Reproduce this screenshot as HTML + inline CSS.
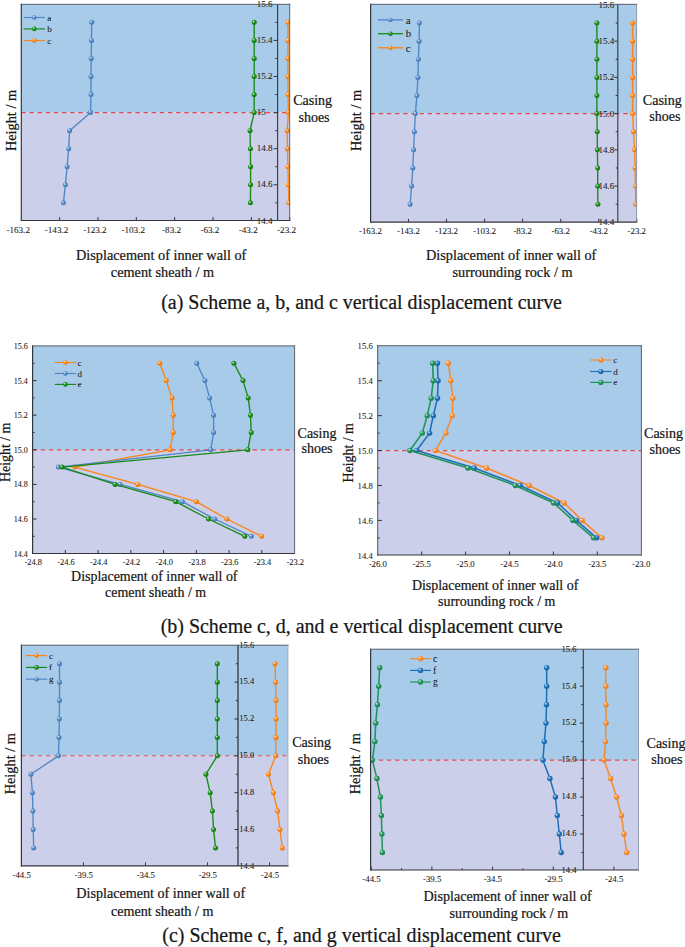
<!DOCTYPE html>
<html lang="en"><head><meta charset="utf-8"><title>Vertical displacement curves</title>
<style>
html,body{margin:0;padding:0;background:#fff;}
body{width:685px;height:947px;overflow:hidden;}
svg{display:block;font-family:'Liberation Serif','Times New Roman',serif;}
svg text{fill:#161616;stroke:#161616;stroke-width:0.22px;}
svg text.s{stroke-width:0.08px;fill:#1c1c1c;}
</style></head><body>
<svg width="685" height="947" viewBox="0 0 685 947">
<defs>
<clipPath id="c0"><rect x="21.3" y="4.3" width="268.4" height="216.2"/></clipPath>
<radialGradient id="g0" cx="0.38" cy="0.36" r="0.62" fx="0.35" fy="0.32"><stop offset="0" stop-color="#fff" stop-opacity="0.85"/><stop offset="0.22" stop-color="#fff" stop-opacity="0.5"/><stop offset="0.6" stop-color="#4f86c6" stop-opacity="0"/><stop offset="1" stop-color="#000" stop-opacity="0.10"/></radialGradient>
<radialGradient id="g1" cx="0.38" cy="0.36" r="0.62" fx="0.35" fy="0.32"><stop offset="0" stop-color="#fff" stop-opacity="0.85"/><stop offset="0.22" stop-color="#fff" stop-opacity="0.5"/><stop offset="0.6" stop-color="#168a16" stop-opacity="0"/><stop offset="1" stop-color="#000" stop-opacity="0.10"/></radialGradient>
<radialGradient id="g2" cx="0.38" cy="0.36" r="0.62" fx="0.35" fy="0.32"><stop offset="0" stop-color="#fff" stop-opacity="0.85"/><stop offset="0.22" stop-color="#fff" stop-opacity="0.5"/><stop offset="0.6" stop-color="#fb8414" stop-opacity="0"/><stop offset="1" stop-color="#000" stop-opacity="0.10"/></radialGradient>
<clipPath id="c1"><rect x="370.6" y="4.3" width="266.0" height="217.89999999999998"/></clipPath>
<clipPath id="c2"><rect x="32.6" y="345.9" width="262.0" height="207.60000000000002"/></clipPath>
<clipPath id="c3"><rect x="377.7" y="345.7" width="263.7" height="209.3"/></clipPath>
<radialGradient id="g3" cx="0.38" cy="0.36" r="0.62" fx="0.35" fy="0.32"><stop offset="0" stop-color="#fff" stop-opacity="0.85"/><stop offset="0.22" stop-color="#fff" stop-opacity="0.5"/><stop offset="0.6" stop-color="#f58a2e" stop-opacity="0"/><stop offset="1" stop-color="#000" stop-opacity="0.10"/></radialGradient>
<radialGradient id="g4" cx="0.38" cy="0.36" r="0.62" fx="0.35" fy="0.32"><stop offset="0" stop-color="#fff" stop-opacity="0.85"/><stop offset="0.22" stop-color="#fff" stop-opacity="0.5"/><stop offset="0.6" stop-color="#1d70b7" stop-opacity="0"/><stop offset="1" stop-color="#000" stop-opacity="0.10"/></radialGradient>
<radialGradient id="g5" cx="0.38" cy="0.36" r="0.62" fx="0.35" fy="0.32"><stop offset="0" stop-color="#fff" stop-opacity="0.85"/><stop offset="0.22" stop-color="#fff" stop-opacity="0.5"/><stop offset="0.6" stop-color="#1d9358" stop-opacity="0"/><stop offset="1" stop-color="#000" stop-opacity="0.10"/></radialGradient>
<clipPath id="c4"><rect x="21.4" y="645.2" width="266.6" height="220.69999999999993"/></clipPath>
<clipPath id="c5"><rect x="370.6" y="649.2" width="267.9" height="220.79999999999995"/></clipPath>
</defs>
<rect width="685" height="947" fill="#fff"/>
<g><rect x="21.3" y="4.3" width="268.4" height="108.30" fill="#a7cbe9"/>
<rect x="21.3" y="112.6" width="268.4" height="107.90" fill="#cbcfe9"/>
<line x1="21.3" y1="112.6" x2="289.7" y2="112.6" stroke="#e24b52" stroke-width="1.1" stroke-dasharray="4.4 3.75" stroke-dashoffset="0"/>
<line x1="277.6" y1="22.35" x2="275.30" y2="22.35" stroke="#34363e" stroke-width="1"/>
<line x1="277.6" y1="40.40" x2="273.60" y2="40.40" stroke="#34363e" stroke-width="1"/>
<line x1="277.6" y1="58.45" x2="275.30" y2="58.45" stroke="#34363e" stroke-width="1"/>
<line x1="277.6" y1="76.50" x2="273.60" y2="76.50" stroke="#34363e" stroke-width="1"/>
<line x1="277.6" y1="94.55" x2="275.30" y2="94.55" stroke="#34363e" stroke-width="1"/>
<line x1="277.6" y1="112.60" x2="273.60" y2="112.60" stroke="#34363e" stroke-width="1"/>
<line x1="277.6" y1="130.65" x2="275.30" y2="130.65" stroke="#34363e" stroke-width="1"/>
<line x1="277.6" y1="148.70" x2="273.60" y2="148.70" stroke="#34363e" stroke-width="1"/>
<line x1="277.6" y1="166.75" x2="275.30" y2="166.75" stroke="#34363e" stroke-width="1"/>
<line x1="277.6" y1="184.80" x2="273.60" y2="184.80" stroke="#34363e" stroke-width="1"/>
<line x1="277.6" y1="202.85" x2="275.30" y2="202.85" stroke="#34363e" stroke-width="1"/>
<line x1="59.64" y1="220.5" x2="59.64" y2="217.1" stroke="#34363e" stroke-width="1"/>
<line x1="97.98" y1="220.5" x2="97.98" y2="217.1" stroke="#34363e" stroke-width="1"/>
<line x1="136.32" y1="220.5" x2="136.32" y2="217.1" stroke="#34363e" stroke-width="1"/>
<line x1="174.66" y1="220.5" x2="174.66" y2="217.1" stroke="#34363e" stroke-width="1"/>
<line x1="213.00" y1="220.5" x2="213.00" y2="217.1" stroke="#34363e" stroke-width="1"/>
<line x1="251.34" y1="220.5" x2="251.34" y2="217.1" stroke="#34363e" stroke-width="1"/>
<line x1="289.68" y1="220.5" x2="289.68" y2="217.1" stroke="#34363e" stroke-width="1"/>
<g clip-path="url(#c0)">
<polyline fill="none" stroke="#4f86c6" stroke-width="1.35" stroke-linejoin="round" points="91.70,22.35 91.50,40.40 91.20,58.45 91.00,76.50 91.00,94.55 90.60,112.60 69.60,130.65 68.70,148.70 67.10,166.75 65.40,184.80 63.40,202.85"/><circle cx="91.70" cy="22.35" r="2.5" fill="#4f86c6"/><circle cx="91.70" cy="22.35" r="2.5" fill="url(#g0)"/><circle cx="91.50" cy="40.40" r="2.5" fill="#4f86c6"/><circle cx="91.50" cy="40.40" r="2.5" fill="url(#g0)"/><circle cx="91.20" cy="58.45" r="2.5" fill="#4f86c6"/><circle cx="91.20" cy="58.45" r="2.5" fill="url(#g0)"/><circle cx="91.00" cy="76.50" r="2.5" fill="#4f86c6"/><circle cx="91.00" cy="76.50" r="2.5" fill="url(#g0)"/><circle cx="91.00" cy="94.55" r="2.5" fill="#4f86c6"/><circle cx="91.00" cy="94.55" r="2.5" fill="url(#g0)"/><circle cx="90.60" cy="112.60" r="2.5" fill="#4f86c6"/><circle cx="90.60" cy="112.60" r="2.5" fill="url(#g0)"/><circle cx="69.60" cy="130.65" r="2.5" fill="#4f86c6"/><circle cx="69.60" cy="130.65" r="2.5" fill="url(#g0)"/><circle cx="68.70" cy="148.70" r="2.5" fill="#4f86c6"/><circle cx="68.70" cy="148.70" r="2.5" fill="url(#g0)"/><circle cx="67.10" cy="166.75" r="2.5" fill="#4f86c6"/><circle cx="67.10" cy="166.75" r="2.5" fill="url(#g0)"/><circle cx="65.40" cy="184.80" r="2.5" fill="#4f86c6"/><circle cx="65.40" cy="184.80" r="2.5" fill="url(#g0)"/><circle cx="63.40" cy="202.85" r="2.5" fill="#4f86c6"/><circle cx="63.40" cy="202.85" r="2.5" fill="url(#g0)"/>
<polyline fill="none" stroke="#168a16" stroke-width="1.35" stroke-linejoin="round" points="254.20,22.35 254.20,40.40 254.20,58.45 254.20,76.50 254.20,94.55 254.20,112.60 250.00,130.65 250.40,148.70 250.60,166.75 250.60,184.80 250.40,202.85"/><circle cx="254.20" cy="22.35" r="2.5" fill="#168a16"/><circle cx="254.20" cy="22.35" r="2.5" fill="url(#g1)"/><circle cx="254.20" cy="40.40" r="2.5" fill="#168a16"/><circle cx="254.20" cy="40.40" r="2.5" fill="url(#g1)"/><circle cx="254.20" cy="58.45" r="2.5" fill="#168a16"/><circle cx="254.20" cy="58.45" r="2.5" fill="url(#g1)"/><circle cx="254.20" cy="76.50" r="2.5" fill="#168a16"/><circle cx="254.20" cy="76.50" r="2.5" fill="url(#g1)"/><circle cx="254.20" cy="94.55" r="2.5" fill="#168a16"/><circle cx="254.20" cy="94.55" r="2.5" fill="url(#g1)"/><circle cx="254.20" cy="112.60" r="2.5" fill="#168a16"/><circle cx="254.20" cy="112.60" r="2.5" fill="url(#g1)"/><circle cx="250.00" cy="130.65" r="2.5" fill="#168a16"/><circle cx="250.00" cy="130.65" r="2.5" fill="url(#g1)"/><circle cx="250.40" cy="148.70" r="2.5" fill="#168a16"/><circle cx="250.40" cy="148.70" r="2.5" fill="url(#g1)"/><circle cx="250.60" cy="166.75" r="2.5" fill="#168a16"/><circle cx="250.60" cy="166.75" r="2.5" fill="url(#g1)"/><circle cx="250.60" cy="184.80" r="2.5" fill="#168a16"/><circle cx="250.60" cy="184.80" r="2.5" fill="url(#g1)"/><circle cx="250.40" cy="202.85" r="2.5" fill="#168a16"/><circle cx="250.40" cy="202.85" r="2.5" fill="url(#g1)"/>
<polyline fill="none" stroke="#fb8414" stroke-width="1.35" stroke-linejoin="round" points="288.00,22.35 288.00,40.40 288.00,58.45 288.00,76.50 288.10,94.55 288.40,112.60 287.20,130.65 287.50,148.70 288.00,166.75 288.40,184.80 288.90,202.85"/><circle cx="288.00" cy="22.35" r="2.5" fill="#fb8414"/><circle cx="288.00" cy="22.35" r="2.5" fill="url(#g2)"/><circle cx="288.00" cy="40.40" r="2.5" fill="#fb8414"/><circle cx="288.00" cy="40.40" r="2.5" fill="url(#g2)"/><circle cx="288.00" cy="58.45" r="2.5" fill="#fb8414"/><circle cx="288.00" cy="58.45" r="2.5" fill="url(#g2)"/><circle cx="288.00" cy="76.50" r="2.5" fill="#fb8414"/><circle cx="288.00" cy="76.50" r="2.5" fill="url(#g2)"/><circle cx="288.10" cy="94.55" r="2.5" fill="#fb8414"/><circle cx="288.10" cy="94.55" r="2.5" fill="url(#g2)"/><circle cx="288.40" cy="112.60" r="2.5" fill="#fb8414"/><circle cx="288.40" cy="112.60" r="2.5" fill="url(#g2)"/><circle cx="287.20" cy="130.65" r="2.5" fill="#fb8414"/><circle cx="287.20" cy="130.65" r="2.5" fill="url(#g2)"/><circle cx="287.50" cy="148.70" r="2.5" fill="#fb8414"/><circle cx="287.50" cy="148.70" r="2.5" fill="url(#g2)"/><circle cx="288.00" cy="166.75" r="2.5" fill="#fb8414"/><circle cx="288.00" cy="166.75" r="2.5" fill="url(#g2)"/><circle cx="288.40" cy="184.80" r="2.5" fill="#fb8414"/><circle cx="288.40" cy="184.80" r="2.5" fill="url(#g2)"/><circle cx="288.90" cy="202.85" r="2.5" fill="#fb8414"/><circle cx="288.90" cy="202.85" r="2.5" fill="url(#g2)"/>
</g>
<text class="s" x="256.80" y="6.97" font-size="9.0" text-anchor="start">15.6</text>
<text class="s" x="256.80" y="43.07" font-size="9.0" text-anchor="start">15.4</text>
<text class="s" x="256.80" y="79.17" font-size="9.0" text-anchor="start">15.2</text>
<text class="s" x="256.80" y="115.27" font-size="9.0" text-anchor="start">15</text>
<text class="s" x="256.80" y="151.37" font-size="9.0" text-anchor="start">14.8</text>
<text class="s" x="256.80" y="187.47" font-size="9.0" text-anchor="start">14.6</text>
<text class="s" x="256.80" y="223.57" font-size="9.0" text-anchor="start">14.4</text>
<line x1="277.6" y1="4.3" x2="277.6" y2="220.5" stroke="#34363e" stroke-width="1.1"/>
<line x1="21.3" y1="3.8" x2="21.3" y2="221.0" stroke="#34363e" stroke-width="1.2"/>
<line x1="20.8" y1="220.5" x2="290.2" y2="220.5" stroke="#34363e" stroke-width="1.2"/>
<line x1="20.8" y1="4.3" x2="290.2" y2="4.3" stroke="#4a4f58" stroke-width="0.9"/>
<line x1="289.7" y1="3.8" x2="289.7" y2="221.0" stroke="#50555e" stroke-width="0.9"/>
<text class="s" x="18.20" y="233.30" font-size="9.1" text-anchor="middle">-163.2</text>
<text class="s" x="56.54" y="233.30" font-size="9.1" text-anchor="middle">-143.2</text>
<text class="s" x="94.88" y="233.30" font-size="9.1" text-anchor="middle">-123.2</text>
<text class="s" x="133.22" y="233.30" font-size="9.1" text-anchor="middle">-103.2</text>
<text class="s" x="171.56" y="233.30" font-size="9.1" text-anchor="middle">-83.2</text>
<text class="s" x="209.90" y="233.30" font-size="9.1" text-anchor="middle">-63.2</text>
<text class="s" x="248.24" y="233.30" font-size="9.1" text-anchor="middle">-43.2</text>
<text class="s" x="286.58" y="233.30" font-size="9.1" text-anchor="middle">-23.2</text>
<line x1="23.6" y1="17.5" x2="45.0" y2="17.5" stroke="#4f86c6" stroke-width="1.15"/>
<circle cx="34.30" cy="17.50" r="2.3" fill="#4f86c6"/><circle cx="34.30" cy="17.50" r="2.3" fill="url(#g0)"/>
<text class="s" x="47.20" y="20.59" font-size="9.1" text-anchor="start">a</text>
<line x1="23.6" y1="28.9" x2="45.0" y2="28.9" stroke="#168a16" stroke-width="1.15"/>
<circle cx="34.30" cy="28.90" r="2.3" fill="#168a16"/><circle cx="34.30" cy="28.90" r="2.3" fill="url(#g1)"/>
<text class="s" x="47.20" y="31.99" font-size="9.1" text-anchor="start">b</text>
<line x1="23.6" y1="40.5" x2="45.0" y2="40.5" stroke="#fb8414" stroke-width="1.15"/>
<circle cx="34.30" cy="40.50" r="2.3" fill="#fb8414"/><circle cx="34.30" cy="40.50" r="2.3" fill="url(#g2)"/>
<text class="s" x="47.20" y="43.59" font-size="9.1" text-anchor="start">c</text>
<text x="161.20" y="259.90" font-size="14.27" text-anchor="middle">Displacement of inner wall of</text>
<text x="162.50" y="276.80" font-size="14.27" text-anchor="middle">cement sheath / m</text>
<text transform="translate(15.7,120.5) rotate(-90)" font-size="14.3" text-anchor="middle">Height / m</text>
<text x="312.60" y="104.90" font-size="14" text-anchor="middle">Casing</text>
<text x="314.00" y="121.60" font-size="14" text-anchor="middle">shoes</text></g>
<g><rect x="370.6" y="4.3" width="266.0" height="109.30" fill="#a7cbe9"/>
<rect x="370.6" y="113.6" width="266.0" height="108.60" fill="#cbcfe9"/>
<line x1="370.6" y1="113.6" x2="636.6" y2="113.6" stroke="#e24b52" stroke-width="1.1" stroke-dasharray="4.4 3.75" stroke-dashoffset="0"/>
<line x1="617.8" y1="23.02" x2="615.70" y2="23.02" stroke="#34363e" stroke-width="1"/>
<line x1="617.8" y1="41.14" x2="614.20" y2="41.14" stroke="#34363e" stroke-width="1"/>
<line x1="617.8" y1="59.26" x2="615.70" y2="59.26" stroke="#34363e" stroke-width="1"/>
<line x1="617.8" y1="77.38" x2="614.20" y2="77.38" stroke="#34363e" stroke-width="1"/>
<line x1="617.8" y1="95.50" x2="615.70" y2="95.50" stroke="#34363e" stroke-width="1"/>
<line x1="617.8" y1="113.62" x2="614.20" y2="113.62" stroke="#34363e" stroke-width="1"/>
<line x1="617.8" y1="131.74" x2="615.70" y2="131.74" stroke="#34363e" stroke-width="1"/>
<line x1="617.8" y1="149.86" x2="614.20" y2="149.86" stroke="#34363e" stroke-width="1"/>
<line x1="617.8" y1="167.98" x2="615.70" y2="167.98" stroke="#34363e" stroke-width="1"/>
<line x1="617.8" y1="186.10" x2="614.20" y2="186.10" stroke="#34363e" stroke-width="1"/>
<line x1="617.8" y1="204.22" x2="615.70" y2="204.22" stroke="#34363e" stroke-width="1"/>
<line x1="408.46" y1="222.2" x2="408.46" y2="218.79999999999998" stroke="#34363e" stroke-width="1"/>
<line x1="446.52" y1="222.2" x2="446.52" y2="218.79999999999998" stroke="#34363e" stroke-width="1"/>
<line x1="484.58" y1="222.2" x2="484.58" y2="218.79999999999998" stroke="#34363e" stroke-width="1"/>
<line x1="522.64" y1="222.2" x2="522.64" y2="218.79999999999998" stroke="#34363e" stroke-width="1"/>
<line x1="560.70" y1="222.2" x2="560.70" y2="218.79999999999998" stroke="#34363e" stroke-width="1"/>
<line x1="598.76" y1="222.2" x2="598.76" y2="218.79999999999998" stroke="#34363e" stroke-width="1"/>
<line x1="636.82" y1="222.2" x2="636.82" y2="218.79999999999998" stroke="#34363e" stroke-width="1"/>
<g clip-path="url(#c1)">
<polyline fill="none" stroke="#4f86c6" stroke-width="1.35" stroke-linejoin="round" points="419.40,23.02 419.10,41.14 418.40,59.26 417.90,77.38 416.90,95.50 415.40,113.62 414.40,131.74 413.60,149.86 412.80,167.98 411.60,186.10 410.10,204.22"/><circle cx="419.40" cy="23.02" r="2.5" fill="#4f86c6"/><circle cx="419.40" cy="23.02" r="2.5" fill="url(#g0)"/><circle cx="419.10" cy="41.14" r="2.5" fill="#4f86c6"/><circle cx="419.10" cy="41.14" r="2.5" fill="url(#g0)"/><circle cx="418.40" cy="59.26" r="2.5" fill="#4f86c6"/><circle cx="418.40" cy="59.26" r="2.5" fill="url(#g0)"/><circle cx="417.90" cy="77.38" r="2.5" fill="#4f86c6"/><circle cx="417.90" cy="77.38" r="2.5" fill="url(#g0)"/><circle cx="416.90" cy="95.50" r="2.5" fill="#4f86c6"/><circle cx="416.90" cy="95.50" r="2.5" fill="url(#g0)"/><circle cx="415.40" cy="113.62" r="2.5" fill="#4f86c6"/><circle cx="415.40" cy="113.62" r="2.5" fill="url(#g0)"/><circle cx="414.40" cy="131.74" r="2.5" fill="#4f86c6"/><circle cx="414.40" cy="131.74" r="2.5" fill="url(#g0)"/><circle cx="413.60" cy="149.86" r="2.5" fill="#4f86c6"/><circle cx="413.60" cy="149.86" r="2.5" fill="url(#g0)"/><circle cx="412.80" cy="167.98" r="2.5" fill="#4f86c6"/><circle cx="412.80" cy="167.98" r="2.5" fill="url(#g0)"/><circle cx="411.60" cy="186.10" r="2.5" fill="#4f86c6"/><circle cx="411.60" cy="186.10" r="2.5" fill="url(#g0)"/><circle cx="410.10" cy="204.22" r="2.5" fill="#4f86c6"/><circle cx="410.10" cy="204.22" r="2.5" fill="url(#g0)"/>
<polyline fill="none" stroke="#168a16" stroke-width="1.35" stroke-linejoin="round" points="596.90,23.02 596.90,41.14 596.90,59.26 596.90,77.38 596.90,95.50 596.90,113.62 597.20,131.74 597.40,149.86 597.70,167.98 597.70,186.10 597.90,204.22"/><circle cx="596.90" cy="23.02" r="2.5" fill="#168a16"/><circle cx="596.90" cy="23.02" r="2.5" fill="url(#g1)"/><circle cx="596.90" cy="41.14" r="2.5" fill="#168a16"/><circle cx="596.90" cy="41.14" r="2.5" fill="url(#g1)"/><circle cx="596.90" cy="59.26" r="2.5" fill="#168a16"/><circle cx="596.90" cy="59.26" r="2.5" fill="url(#g1)"/><circle cx="596.90" cy="77.38" r="2.5" fill="#168a16"/><circle cx="596.90" cy="77.38" r="2.5" fill="url(#g1)"/><circle cx="596.90" cy="95.50" r="2.5" fill="#168a16"/><circle cx="596.90" cy="95.50" r="2.5" fill="url(#g1)"/><circle cx="596.90" cy="113.62" r="2.5" fill="#168a16"/><circle cx="596.90" cy="113.62" r="2.5" fill="url(#g1)"/><circle cx="597.20" cy="131.74" r="2.5" fill="#168a16"/><circle cx="597.20" cy="131.74" r="2.5" fill="url(#g1)"/><circle cx="597.40" cy="149.86" r="2.5" fill="#168a16"/><circle cx="597.40" cy="149.86" r="2.5" fill="url(#g1)"/><circle cx="597.70" cy="167.98" r="2.5" fill="#168a16"/><circle cx="597.70" cy="167.98" r="2.5" fill="url(#g1)"/><circle cx="597.70" cy="186.10" r="2.5" fill="#168a16"/><circle cx="597.70" cy="186.10" r="2.5" fill="url(#g1)"/><circle cx="597.90" cy="204.22" r="2.5" fill="#168a16"/><circle cx="597.90" cy="204.22" r="2.5" fill="url(#g1)"/>
<polyline fill="none" stroke="#fb8414" stroke-width="1.35" stroke-linejoin="round" points="632.60,23.02 632.60,41.14 632.60,59.26 632.60,77.38 632.60,95.50 632.60,113.62 633.50,131.74 634.60,149.86 635.10,167.98 635.50,186.10 635.80,204.22"/><circle cx="632.60" cy="23.02" r="2.5" fill="#fb8414"/><circle cx="632.60" cy="23.02" r="2.5" fill="url(#g2)"/><circle cx="632.60" cy="41.14" r="2.5" fill="#fb8414"/><circle cx="632.60" cy="41.14" r="2.5" fill="url(#g2)"/><circle cx="632.60" cy="59.26" r="2.5" fill="#fb8414"/><circle cx="632.60" cy="59.26" r="2.5" fill="url(#g2)"/><circle cx="632.60" cy="77.38" r="2.5" fill="#fb8414"/><circle cx="632.60" cy="77.38" r="2.5" fill="url(#g2)"/><circle cx="632.60" cy="95.50" r="2.5" fill="#fb8414"/><circle cx="632.60" cy="95.50" r="2.5" fill="url(#g2)"/><circle cx="632.60" cy="113.62" r="2.5" fill="#fb8414"/><circle cx="632.60" cy="113.62" r="2.5" fill="url(#g2)"/><circle cx="633.50" cy="131.74" r="2.5" fill="#fb8414"/><circle cx="633.50" cy="131.74" r="2.5" fill="url(#g2)"/><circle cx="634.60" cy="149.86" r="2.5" fill="#fb8414"/><circle cx="634.60" cy="149.86" r="2.5" fill="url(#g2)"/><circle cx="635.10" cy="167.98" r="2.5" fill="#fb8414"/><circle cx="635.10" cy="167.98" r="2.5" fill="url(#g2)"/><circle cx="635.50" cy="186.10" r="2.5" fill="#fb8414"/><circle cx="635.50" cy="186.10" r="2.5" fill="url(#g2)"/><circle cx="635.80" cy="204.22" r="2.5" fill="#fb8414"/><circle cx="635.80" cy="204.22" r="2.5" fill="url(#g2)"/>
</g>
<text class="s" x="614.20" y="7.87" font-size="9.0" text-anchor="end">15.6</text>
<text class="s" x="614.20" y="44.11" font-size="9.0" text-anchor="end">15.4</text>
<text class="s" x="614.20" y="80.35" font-size="9.0" text-anchor="end">15.2</text>
<text class="s" x="614.20" y="116.59" font-size="9.0" text-anchor="end">15.0</text>
<text class="s" x="614.20" y="152.83" font-size="9.0" text-anchor="end">14.8</text>
<text class="s" x="614.20" y="189.07" font-size="9.0" text-anchor="end">14.6</text>
<text class="s" x="614.20" y="225.31" font-size="9.0" text-anchor="end">14.4</text>
<line x1="617.8" y1="4.3" x2="617.8" y2="222.2" stroke="#34363e" stroke-width="1.1"/>
<line x1="370.6" y1="3.8" x2="370.6" y2="222.7" stroke="#34363e" stroke-width="1.2"/>
<line x1="370.1" y1="222.2" x2="637.1" y2="222.2" stroke="#34363e" stroke-width="1.2"/>
<line x1="370.1" y1="4.3" x2="637.1" y2="4.3" stroke="#4a4f58" stroke-width="0.9"/>
<line x1="636.6" y1="3.8" x2="636.6" y2="222.7" stroke="#7c8696" stroke-width="0.8"/>
<text class="s" x="370.40" y="233.90" font-size="8.9" text-anchor="middle">-163.2</text>
<text class="s" x="408.46" y="233.90" font-size="8.9" text-anchor="middle">-143.2</text>
<text class="s" x="446.52" y="233.90" font-size="8.9" text-anchor="middle">-123.2</text>
<text class="s" x="484.58" y="233.90" font-size="8.9" text-anchor="middle">-103.2</text>
<text class="s" x="522.64" y="233.90" font-size="8.9" text-anchor="middle">-83.2</text>
<text class="s" x="560.70" y="233.90" font-size="8.9" text-anchor="middle">-63.2</text>
<text class="s" x="598.76" y="233.90" font-size="8.9" text-anchor="middle">-43.2</text>
<text class="s" x="636.82" y="233.90" font-size="8.9" text-anchor="middle">-23.2</text>
<line x1="377.9" y1="19.9" x2="403.1" y2="19.9" stroke="#4f86c6" stroke-width="1.3"/>
<circle cx="390.50" cy="19.90" r="2.2" fill="#4f86c6"/><circle cx="390.50" cy="19.90" r="2.2" fill="url(#g0)"/>
<text class="s" x="405.70" y="23.64" font-size="11" text-anchor="start">a</text>
<line x1="377.9" y1="33.7" x2="403.1" y2="33.7" stroke="#168a16" stroke-width="1.3"/>
<circle cx="390.50" cy="33.70" r="2.2" fill="#168a16"/><circle cx="390.50" cy="33.70" r="2.2" fill="url(#g1)"/>
<text class="s" x="405.70" y="37.44" font-size="11" text-anchor="start">b</text>
<line x1="377.9" y1="47.8" x2="403.1" y2="47.8" stroke="#fb8414" stroke-width="1.3"/>
<circle cx="390.50" cy="47.80" r="2.2" fill="#fb8414"/><circle cx="390.50" cy="47.80" r="2.2" fill="url(#g2)"/>
<text class="s" x="405.70" y="51.54" font-size="11" text-anchor="start">c</text>
<text x="511.20" y="259.90" font-size="14.27" text-anchor="middle">Displacement of inner wall of</text>
<text x="512.50" y="276.80" font-size="14.27" text-anchor="middle">surrounding rock / m</text>
<text transform="translate(360.6,120.5) rotate(-90)" font-size="14.3" text-anchor="middle">Height / m</text>
<text x="662.30" y="105.20" font-size="14" text-anchor="middle">Casing</text>
<text x="664.80" y="121.30" font-size="14" text-anchor="middle">shoes</text></g>
<g><rect x="32.6" y="345.9" width="262.0" height="104.00" fill="#a7cbe9"/>
<rect x="32.6" y="449.9" width="262.0" height="103.60" fill="#cbcfe9"/>
<line x1="32.6" y1="449.9" x2="294.6" y2="449.9" stroke="#e24b52" stroke-width="1.1" stroke-dasharray="4.4 3.75" stroke-dashoffset="0"/>
<line x1="32.6" y1="363.30" x2="34.60" y2="363.30" stroke="#34363e" stroke-width="1"/>
<line x1="32.6" y1="380.60" x2="36.60" y2="380.60" stroke="#34363e" stroke-width="1"/>
<line x1="32.6" y1="397.90" x2="34.60" y2="397.90" stroke="#34363e" stroke-width="1"/>
<line x1="32.6" y1="415.20" x2="36.60" y2="415.20" stroke="#34363e" stroke-width="1"/>
<line x1="32.6" y1="432.50" x2="34.60" y2="432.50" stroke="#34363e" stroke-width="1"/>
<line x1="32.6" y1="449.80" x2="36.60" y2="449.80" stroke="#34363e" stroke-width="1"/>
<line x1="32.6" y1="467.10" x2="34.60" y2="467.10" stroke="#34363e" stroke-width="1"/>
<line x1="32.6" y1="484.40" x2="36.60" y2="484.40" stroke="#34363e" stroke-width="1"/>
<line x1="32.6" y1="501.70" x2="34.60" y2="501.70" stroke="#34363e" stroke-width="1"/>
<line x1="32.6" y1="519.00" x2="36.60" y2="519.00" stroke="#34363e" stroke-width="1"/>
<line x1="32.6" y1="536.30" x2="34.60" y2="536.30" stroke="#34363e" stroke-width="1"/>
<line x1="65.35" y1="553.5" x2="65.35" y2="550.0" stroke="#34363e" stroke-width="1"/>
<line x1="98.10" y1="553.5" x2="98.10" y2="550.0" stroke="#34363e" stroke-width="1"/>
<line x1="130.85" y1="553.5" x2="130.85" y2="550.0" stroke="#34363e" stroke-width="1"/>
<line x1="163.60" y1="553.5" x2="163.60" y2="550.0" stroke="#34363e" stroke-width="1"/>
<line x1="196.35" y1="553.5" x2="196.35" y2="550.0" stroke="#34363e" stroke-width="1"/>
<line x1="229.10" y1="553.5" x2="229.10" y2="550.0" stroke="#34363e" stroke-width="1"/>
<line x1="261.85" y1="553.5" x2="261.85" y2="550.0" stroke="#34363e" stroke-width="1"/>
<g clip-path="url(#c2)">
<polyline fill="none" stroke="#fb8414" stroke-width="1.35" stroke-linejoin="round" points="159.80,363.30 166.20,380.60 172.00,397.90 173.20,415.20 173.20,432.50 170.10,449.80 74.70,467.10 137.80,484.40 196.40,501.70 226.90,519.00 261.70,536.30"/><circle cx="159.80" cy="363.30" r="2.5" fill="#fb8414"/><circle cx="159.80" cy="363.30" r="2.5" fill="url(#g2)"/><circle cx="166.20" cy="380.60" r="2.5" fill="#fb8414"/><circle cx="166.20" cy="380.60" r="2.5" fill="url(#g2)"/><circle cx="172.00" cy="397.90" r="2.5" fill="#fb8414"/><circle cx="172.00" cy="397.90" r="2.5" fill="url(#g2)"/><circle cx="173.20" cy="415.20" r="2.5" fill="#fb8414"/><circle cx="173.20" cy="415.20" r="2.5" fill="url(#g2)"/><circle cx="173.20" cy="432.50" r="2.5" fill="#fb8414"/><circle cx="173.20" cy="432.50" r="2.5" fill="url(#g2)"/><circle cx="170.10" cy="449.80" r="2.5" fill="#fb8414"/><circle cx="170.10" cy="449.80" r="2.5" fill="url(#g2)"/><circle cx="74.70" cy="467.10" r="2.5" fill="#fb8414"/><circle cx="74.70" cy="467.10" r="2.5" fill="url(#g2)"/><circle cx="137.80" cy="484.40" r="2.5" fill="#fb8414"/><circle cx="137.80" cy="484.40" r="2.5" fill="url(#g2)"/><circle cx="196.40" cy="501.70" r="2.5" fill="#fb8414"/><circle cx="196.40" cy="501.70" r="2.5" fill="url(#g2)"/><circle cx="226.90" cy="519.00" r="2.5" fill="#fb8414"/><circle cx="226.90" cy="519.00" r="2.5" fill="url(#g2)"/><circle cx="261.70" cy="536.30" r="2.5" fill="#fb8414"/><circle cx="261.70" cy="536.30" r="2.5" fill="url(#g2)"/>
<polyline fill="none" stroke="#4f86c6" stroke-width="1.35" stroke-linejoin="round" points="196.80,363.30 204.90,380.60 209.60,397.90 213.60,415.20 213.60,432.50 210.70,449.80 58.30,467.10 120.10,484.40 182.40,501.70 214.80,519.00 251.40,536.30"/><circle cx="196.80" cy="363.30" r="2.5" fill="#4f86c6"/><circle cx="196.80" cy="363.30" r="2.5" fill="url(#g0)"/><circle cx="204.90" cy="380.60" r="2.5" fill="#4f86c6"/><circle cx="204.90" cy="380.60" r="2.5" fill="url(#g0)"/><circle cx="209.60" cy="397.90" r="2.5" fill="#4f86c6"/><circle cx="209.60" cy="397.90" r="2.5" fill="url(#g0)"/><circle cx="213.60" cy="415.20" r="2.5" fill="#4f86c6"/><circle cx="213.60" cy="415.20" r="2.5" fill="url(#g0)"/><circle cx="213.60" cy="432.50" r="2.5" fill="#4f86c6"/><circle cx="213.60" cy="432.50" r="2.5" fill="url(#g0)"/><circle cx="210.70" cy="449.80" r="2.5" fill="#4f86c6"/><circle cx="210.70" cy="449.80" r="2.5" fill="url(#g0)"/><circle cx="58.30" cy="467.10" r="2.5" fill="#4f86c6"/><circle cx="58.30" cy="467.10" r="2.5" fill="url(#g0)"/><circle cx="120.10" cy="484.40" r="2.5" fill="#4f86c6"/><circle cx="120.10" cy="484.40" r="2.5" fill="url(#g0)"/><circle cx="182.40" cy="501.70" r="2.5" fill="#4f86c6"/><circle cx="182.40" cy="501.70" r="2.5" fill="url(#g0)"/><circle cx="214.80" cy="519.00" r="2.5" fill="#4f86c6"/><circle cx="214.80" cy="519.00" r="2.5" fill="url(#g0)"/><circle cx="251.40" cy="536.30" r="2.5" fill="#4f86c6"/><circle cx="251.40" cy="536.30" r="2.5" fill="url(#g0)"/>
<polyline fill="none" stroke="#168a16" stroke-width="1.35" stroke-linejoin="round" points="233.90,363.30 243.00,380.60 248.20,397.90 250.50,415.20 251.20,432.50 247.80,449.80 62.00,467.10 115.00,484.40 175.80,501.70 208.50,519.00 244.80,536.30"/><circle cx="233.90" cy="363.30" r="2.5" fill="#168a16"/><circle cx="233.90" cy="363.30" r="2.5" fill="url(#g1)"/><circle cx="243.00" cy="380.60" r="2.5" fill="#168a16"/><circle cx="243.00" cy="380.60" r="2.5" fill="url(#g1)"/><circle cx="248.20" cy="397.90" r="2.5" fill="#168a16"/><circle cx="248.20" cy="397.90" r="2.5" fill="url(#g1)"/><circle cx="250.50" cy="415.20" r="2.5" fill="#168a16"/><circle cx="250.50" cy="415.20" r="2.5" fill="url(#g1)"/><circle cx="251.20" cy="432.50" r="2.5" fill="#168a16"/><circle cx="251.20" cy="432.50" r="2.5" fill="url(#g1)"/><circle cx="247.80" cy="449.80" r="2.5" fill="#168a16"/><circle cx="247.80" cy="449.80" r="2.5" fill="url(#g1)"/><circle cx="62.00" cy="467.10" r="2.5" fill="#168a16"/><circle cx="62.00" cy="467.10" r="2.5" fill="url(#g1)"/><circle cx="115.00" cy="484.40" r="2.5" fill="#168a16"/><circle cx="115.00" cy="484.40" r="2.5" fill="url(#g1)"/><circle cx="175.80" cy="501.70" r="2.5" fill="#168a16"/><circle cx="175.80" cy="501.70" r="2.5" fill="url(#g1)"/><circle cx="208.50" cy="519.00" r="2.5" fill="#168a16"/><circle cx="208.50" cy="519.00" r="2.5" fill="url(#g1)"/><circle cx="244.80" cy="536.30" r="2.5" fill="#168a16"/><circle cx="244.80" cy="536.30" r="2.5" fill="url(#g1)"/>
</g>
<text class="s" x="27.90" y="348.97" font-size="8.1" text-anchor="end">15.6</text>
<text class="s" x="27.90" y="383.57" font-size="8.1" text-anchor="end">15.4</text>
<text class="s" x="27.90" y="418.17" font-size="8.1" text-anchor="end">15.2</text>
<text class="s" x="27.90" y="452.77" font-size="8.1" text-anchor="end">15.0</text>
<text class="s" x="27.90" y="487.37" font-size="8.1" text-anchor="end">14.8</text>
<text class="s" x="27.90" y="521.97" font-size="8.1" text-anchor="end">14.6</text>
<text class="s" x="27.90" y="556.57" font-size="8.1" text-anchor="end">14.4</text>
<line x1="32.6" y1="345.4" x2="32.6" y2="554.0" stroke="#34363e" stroke-width="1.2"/>
<line x1="32.1" y1="553.5" x2="295.1" y2="553.5" stroke="#34363e" stroke-width="1.2"/>
<line x1="32.1" y1="345.9" x2="295.1" y2="345.9" stroke="#4a4f58" stroke-width="0.9"/>
<line x1="294.6" y1="345.4" x2="294.6" y2="554.0" stroke="#50555e" stroke-width="0.9"/>
<text class="s" x="33.20" y="564.90" font-size="8.4" text-anchor="middle">-24.8</text>
<text class="s" x="65.95" y="564.90" font-size="8.4" text-anchor="middle">-24.6</text>
<text class="s" x="98.70" y="564.90" font-size="8.4" text-anchor="middle">-24.4</text>
<text class="s" x="131.45" y="564.90" font-size="8.4" text-anchor="middle">-24.2</text>
<text class="s" x="164.20" y="564.90" font-size="8.4" text-anchor="middle">-24.0</text>
<text class="s" x="196.95" y="564.90" font-size="8.4" text-anchor="middle">-23.8</text>
<text class="s" x="229.70" y="564.90" font-size="8.4" text-anchor="middle">-23.6</text>
<text class="s" x="262.45" y="564.90" font-size="8.4" text-anchor="middle">-23.4</text>
<text class="s" x="295.20" y="564.90" font-size="8.4" text-anchor="middle">-23.2</text>
<line x1="54.8" y1="362.5" x2="76.1" y2="362.5" stroke="#fb8414" stroke-width="1.15"/>
<circle cx="65.45" cy="362.50" r="2.3" fill="#fb8414"/><circle cx="65.45" cy="362.50" r="2.3" fill="url(#g2)"/>
<text class="s" x="77.40" y="365.56" font-size="9.0" text-anchor="start">c</text>
<line x1="54.8" y1="373.5" x2="76.1" y2="373.5" stroke="#4f86c6" stroke-width="1.15"/>
<circle cx="65.45" cy="373.50" r="2.3" fill="#4f86c6"/><circle cx="65.45" cy="373.50" r="2.3" fill="url(#g0)"/>
<text class="s" x="77.40" y="376.56" font-size="9.0" text-anchor="start">d</text>
<line x1="54.8" y1="384.4" x2="76.1" y2="384.4" stroke="#168a16" stroke-width="1.15"/>
<circle cx="65.45" cy="384.40" r="2.3" fill="#168a16"/><circle cx="65.45" cy="384.40" r="2.3" fill="url(#g1)"/>
<text class="s" x="77.40" y="387.46" font-size="9.0" text-anchor="start">e</text>
<text x="154.30" y="581.30" font-size="13.94" text-anchor="middle">Displacement of inner wall of</text>
<text x="155.60" y="597.40" font-size="13.94" text-anchor="middle">cement sheath / m</text>
<text transform="translate(10.0,452.3) rotate(-90)" font-size="13.9" text-anchor="middle">Height / m</text>
<text x="317.00" y="437.50" font-size="14" text-anchor="middle">Casing</text>
<text x="317.00" y="453.00" font-size="14" text-anchor="middle">shoes</text></g>
<g><rect x="377.7" y="345.7" width="263.7" height="104.90" fill="#a7cbe9"/>
<rect x="377.7" y="450.6" width="263.7" height="104.40" fill="#cbcfe9"/>
<line x1="377.7" y1="450.6" x2="641.4" y2="450.6" stroke="#e24b52" stroke-width="1.1" stroke-dasharray="4.4 3.75" stroke-dashoffset="0"/>
<line x1="377.7" y1="363.26" x2="379.70" y2="363.26" stroke="#34363e" stroke-width="1"/>
<line x1="377.7" y1="380.72" x2="382.00" y2="380.72" stroke="#34363e" stroke-width="1"/>
<line x1="377.7" y1="398.18" x2="379.70" y2="398.18" stroke="#34363e" stroke-width="1"/>
<line x1="377.7" y1="415.64" x2="382.00" y2="415.64" stroke="#34363e" stroke-width="1"/>
<line x1="377.7" y1="433.10" x2="379.70" y2="433.10" stroke="#34363e" stroke-width="1"/>
<line x1="377.7" y1="450.56" x2="382.00" y2="450.56" stroke="#34363e" stroke-width="1"/>
<line x1="377.7" y1="468.02" x2="379.70" y2="468.02" stroke="#34363e" stroke-width="1"/>
<line x1="377.7" y1="485.48" x2="382.00" y2="485.48" stroke="#34363e" stroke-width="1"/>
<line x1="377.7" y1="502.94" x2="379.70" y2="502.94" stroke="#34363e" stroke-width="1"/>
<line x1="377.7" y1="520.40" x2="382.00" y2="520.40" stroke="#34363e" stroke-width="1"/>
<line x1="377.7" y1="537.86" x2="379.70" y2="537.86" stroke="#34363e" stroke-width="1"/>
<line x1="421.70" y1="555.0" x2="421.70" y2="551.5" stroke="#34363e" stroke-width="1"/>
<line x1="465.60" y1="555.0" x2="465.60" y2="551.5" stroke="#34363e" stroke-width="1"/>
<line x1="509.50" y1="555.0" x2="509.50" y2="551.5" stroke="#34363e" stroke-width="1"/>
<line x1="553.40" y1="555.0" x2="553.40" y2="551.5" stroke="#34363e" stroke-width="1"/>
<line x1="597.30" y1="555.0" x2="597.30" y2="551.5" stroke="#34363e" stroke-width="1"/>
<g clip-path="url(#c3)">
<polyline fill="none" stroke="#f58a2e" stroke-width="1.55" stroke-linejoin="round" points="448.30,363.26 450.80,380.72 452.80,398.18 452.30,415.64 445.80,433.10 435.30,450.56 486.50,468.02 529.10,485.48 564.20,502.94 582.10,520.40 602.00,537.86"/><circle cx="448.30" cy="363.26" r="2.7" fill="#f58a2e"/><circle cx="448.30" cy="363.26" r="2.7" fill="url(#g3)"/><circle cx="450.80" cy="380.72" r="2.7" fill="#f58a2e"/><circle cx="450.80" cy="380.72" r="2.7" fill="url(#g3)"/><circle cx="452.80" cy="398.18" r="2.7" fill="#f58a2e"/><circle cx="452.80" cy="398.18" r="2.7" fill="url(#g3)"/><circle cx="452.30" cy="415.64" r="2.7" fill="#f58a2e"/><circle cx="452.30" cy="415.64" r="2.7" fill="url(#g3)"/><circle cx="445.80" cy="433.10" r="2.7" fill="#f58a2e"/><circle cx="445.80" cy="433.10" r="2.7" fill="url(#g3)"/><circle cx="435.30" cy="450.56" r="2.7" fill="#f58a2e"/><circle cx="435.30" cy="450.56" r="2.7" fill="url(#g3)"/><circle cx="486.50" cy="468.02" r="2.7" fill="#f58a2e"/><circle cx="486.50" cy="468.02" r="2.7" fill="url(#g3)"/><circle cx="529.10" cy="485.48" r="2.7" fill="#f58a2e"/><circle cx="529.10" cy="485.48" r="2.7" fill="url(#g3)"/><circle cx="564.20" cy="502.94" r="2.7" fill="#f58a2e"/><circle cx="564.20" cy="502.94" r="2.7" fill="url(#g3)"/><circle cx="582.10" cy="520.40" r="2.7" fill="#f58a2e"/><circle cx="582.10" cy="520.40" r="2.7" fill="url(#g3)"/><circle cx="602.00" cy="537.86" r="2.7" fill="#f58a2e"/><circle cx="602.00" cy="537.86" r="2.7" fill="url(#g3)"/>
<polyline fill="none" stroke="#1d70b7" stroke-width="1.55" stroke-linejoin="round" points="437.50,363.26 438.10,380.72 437.50,398.18 433.30,415.64 429.60,433.10 416.60,450.56 474.20,468.02 520.10,485.48 557.60,502.94 576.40,520.40 596.60,537.86"/><circle cx="437.50" cy="363.26" r="2.7" fill="#1d70b7"/><circle cx="437.50" cy="363.26" r="2.7" fill="url(#g4)"/><circle cx="438.10" cy="380.72" r="2.7" fill="#1d70b7"/><circle cx="438.10" cy="380.72" r="2.7" fill="url(#g4)"/><circle cx="437.50" cy="398.18" r="2.7" fill="#1d70b7"/><circle cx="437.50" cy="398.18" r="2.7" fill="url(#g4)"/><circle cx="433.30" cy="415.64" r="2.7" fill="#1d70b7"/><circle cx="433.30" cy="415.64" r="2.7" fill="url(#g4)"/><circle cx="429.60" cy="433.10" r="2.7" fill="#1d70b7"/><circle cx="429.60" cy="433.10" r="2.7" fill="url(#g4)"/><circle cx="416.60" cy="450.56" r="2.7" fill="#1d70b7"/><circle cx="416.60" cy="450.56" r="2.7" fill="url(#g4)"/><circle cx="474.20" cy="468.02" r="2.7" fill="#1d70b7"/><circle cx="474.20" cy="468.02" r="2.7" fill="url(#g4)"/><circle cx="520.10" cy="485.48" r="2.7" fill="#1d70b7"/><circle cx="520.10" cy="485.48" r="2.7" fill="url(#g4)"/><circle cx="557.60" cy="502.94" r="2.7" fill="#1d70b7"/><circle cx="557.60" cy="502.94" r="2.7" fill="url(#g4)"/><circle cx="576.40" cy="520.40" r="2.7" fill="#1d70b7"/><circle cx="576.40" cy="520.40" r="2.7" fill="url(#g4)"/><circle cx="596.60" cy="537.86" r="2.7" fill="#1d70b7"/><circle cx="596.60" cy="537.86" r="2.7" fill="url(#g4)"/>
<polyline fill="none" stroke="#1d9358" stroke-width="1.55" stroke-linejoin="round" points="432.70,363.26 433.20,380.72 431.20,398.18 427.20,415.64 422.30,433.10 409.90,450.56 467.90,468.02 515.30,485.48 553.60,502.94 572.90,520.40 593.50,537.86"/><circle cx="432.70" cy="363.26" r="2.7" fill="#1d9358"/><circle cx="432.70" cy="363.26" r="2.7" fill="url(#g5)"/><circle cx="433.20" cy="380.72" r="2.7" fill="#1d9358"/><circle cx="433.20" cy="380.72" r="2.7" fill="url(#g5)"/><circle cx="431.20" cy="398.18" r="2.7" fill="#1d9358"/><circle cx="431.20" cy="398.18" r="2.7" fill="url(#g5)"/><circle cx="427.20" cy="415.64" r="2.7" fill="#1d9358"/><circle cx="427.20" cy="415.64" r="2.7" fill="url(#g5)"/><circle cx="422.30" cy="433.10" r="2.7" fill="#1d9358"/><circle cx="422.30" cy="433.10" r="2.7" fill="url(#g5)"/><circle cx="409.90" cy="450.56" r="2.7" fill="#1d9358"/><circle cx="409.90" cy="450.56" r="2.7" fill="url(#g5)"/><circle cx="467.90" cy="468.02" r="2.7" fill="#1d9358"/><circle cx="467.90" cy="468.02" r="2.7" fill="url(#g5)"/><circle cx="515.30" cy="485.48" r="2.7" fill="#1d9358"/><circle cx="515.30" cy="485.48" r="2.7" fill="url(#g5)"/><circle cx="553.60" cy="502.94" r="2.7" fill="#1d9358"/><circle cx="553.60" cy="502.94" r="2.7" fill="url(#g5)"/><circle cx="572.90" cy="520.40" r="2.7" fill="#1d9358"/><circle cx="572.90" cy="520.40" r="2.7" fill="url(#g5)"/><circle cx="593.50" cy="537.86" r="2.7" fill="#1d9358"/><circle cx="593.50" cy="537.86" r="2.7" fill="url(#g5)"/>
</g>
<text class="s" x="372.80" y="349.17" font-size="8.7" text-anchor="end">15.6</text>
<text class="s" x="372.80" y="384.09" font-size="8.7" text-anchor="end">15.4</text>
<text class="s" x="372.80" y="419.01" font-size="8.7" text-anchor="end">15.2</text>
<text class="s" x="372.80" y="453.93" font-size="8.7" text-anchor="end">15.0</text>
<text class="s" x="372.80" y="488.85" font-size="8.7" text-anchor="end">14.8</text>
<text class="s" x="372.80" y="523.77" font-size="8.7" text-anchor="end">14.6</text>
<text class="s" x="372.80" y="558.69" font-size="8.7" text-anchor="end">14.4</text>
<line x1="377.7" y1="345.2" x2="377.7" y2="555.5" stroke="#4d525e" stroke-width="1.0"/>
<line x1="377.2" y1="555.0" x2="641.9" y2="555.0" stroke="#34363e" stroke-width="1.2"/>
<line x1="377.2" y1="345.7" x2="641.9" y2="345.7" stroke="#4a4f58" stroke-width="0.9"/>
<line x1="641.4" y1="345.2" x2="641.4" y2="555.5" stroke="#50555e" stroke-width="0.9"/>
<text class="s" x="377.80" y="566.90" font-size="8.8" text-anchor="middle">-26.0</text>
<text class="s" x="421.70" y="566.90" font-size="8.8" text-anchor="middle">-25.5</text>
<text class="s" x="465.60" y="566.90" font-size="8.8" text-anchor="middle">-25.0</text>
<text class="s" x="509.50" y="566.90" font-size="8.8" text-anchor="middle">-24.5</text>
<text class="s" x="553.40" y="566.90" font-size="8.8" text-anchor="middle">-24.0</text>
<text class="s" x="597.30" y="566.90" font-size="8.8" text-anchor="middle">-23.5</text>
<text class="s" x="641.20" y="566.90" font-size="8.8" text-anchor="middle">-23.0</text>
<line x1="590.1" y1="360.0" x2="611.6" y2="360.0" stroke="#f58a2e" stroke-width="1.15"/>
<circle cx="600.85" cy="360.00" r="2.6" fill="#f58a2e"/><circle cx="600.85" cy="360.00" r="2.6" fill="url(#g3)"/>
<text class="s" x="613.30" y="363.06" font-size="9.0" text-anchor="start">c</text>
<line x1="590.1" y1="371.5" x2="611.6" y2="371.5" stroke="#1d70b7" stroke-width="1.15"/>
<circle cx="600.85" cy="371.50" r="2.6" fill="#1d70b7"/><circle cx="600.85" cy="371.50" r="2.6" fill="url(#g4)"/>
<text class="s" x="613.30" y="374.56" font-size="9.0" text-anchor="start">d</text>
<line x1="590.1" y1="382.4" x2="611.6" y2="382.4" stroke="#1d9358" stroke-width="1.15"/>
<circle cx="600.85" cy="382.40" r="2.6" fill="#1d9358"/><circle cx="600.85" cy="382.40" r="2.6" fill="url(#g5)"/>
<text class="s" x="613.30" y="385.46" font-size="9.0" text-anchor="start">e</text>
<text x="495.10" y="589.70" font-size="13.94" text-anchor="middle">Displacement of inner wall of</text>
<text x="496.70" y="605.70" font-size="13.94" text-anchor="middle">surrounding rock / m</text>
<text transform="translate(352.5,452.8) rotate(-90)" font-size="13.9" text-anchor="middle">Height / m</text>
<text x="663.50" y="438.00" font-size="14" text-anchor="middle">Casing</text>
<text x="665.00" y="454.10" font-size="14" text-anchor="middle">shoes</text></g>
<g><rect x="21.4" y="645.2" width="266.6" height="110.50" fill="#a7cbe9"/>
<rect x="21.4" y="755.7" width="266.6" height="110.20" fill="#cbcfe9"/>
<line x1="21.4" y1="755.7" x2="288.0" y2="755.7" stroke="#e24b52" stroke-width="1.1" stroke-dasharray="4.4 3.75" stroke-dashoffset="0"/>
<line x1="238.0" y1="663.72" x2="235.80" y2="663.72" stroke="#34363e" stroke-width="1"/>
<line x1="238.0" y1="682.14" x2="234.40" y2="682.14" stroke="#34363e" stroke-width="1"/>
<line x1="238.0" y1="700.56" x2="235.80" y2="700.56" stroke="#34363e" stroke-width="1"/>
<line x1="238.0" y1="718.98" x2="234.40" y2="718.98" stroke="#34363e" stroke-width="1"/>
<line x1="238.0" y1="737.40" x2="235.80" y2="737.40" stroke="#34363e" stroke-width="1"/>
<line x1="238.0" y1="755.82" x2="234.40" y2="755.82" stroke="#34363e" stroke-width="1"/>
<line x1="238.0" y1="774.24" x2="235.80" y2="774.24" stroke="#34363e" stroke-width="1"/>
<line x1="238.0" y1="792.66" x2="234.40" y2="792.66" stroke="#34363e" stroke-width="1"/>
<line x1="238.0" y1="811.08" x2="235.80" y2="811.08" stroke="#34363e" stroke-width="1"/>
<line x1="238.0" y1="829.50" x2="234.40" y2="829.50" stroke="#34363e" stroke-width="1"/>
<line x1="238.0" y1="847.92" x2="235.80" y2="847.92" stroke="#34363e" stroke-width="1"/>
<line x1="83.45" y1="865.9" x2="83.45" y2="862.4" stroke="#34363e" stroke-width="1"/>
<line x1="145.50" y1="865.9" x2="145.50" y2="862.4" stroke="#34363e" stroke-width="1"/>
<line x1="207.55" y1="865.9" x2="207.55" y2="862.4" stroke="#34363e" stroke-width="1"/>
<line x1="269.60" y1="865.9" x2="269.60" y2="862.4" stroke="#34363e" stroke-width="1"/>
<g clip-path="url(#c4)">
<polyline fill="none" stroke="#fb8414" stroke-width="1.35" stroke-linejoin="round" points="275.00,663.72 275.60,682.14 276.00,700.56 276.10,718.98 276.00,737.40 275.70,755.82 268.50,774.24 273.30,792.66 277.60,811.08 280.00,829.50 282.30,847.92"/><circle cx="275.00" cy="663.72" r="2.5" fill="#fb8414"/><circle cx="275.00" cy="663.72" r="2.5" fill="url(#g2)"/><circle cx="275.60" cy="682.14" r="2.5" fill="#fb8414"/><circle cx="275.60" cy="682.14" r="2.5" fill="url(#g2)"/><circle cx="276.00" cy="700.56" r="2.5" fill="#fb8414"/><circle cx="276.00" cy="700.56" r="2.5" fill="url(#g2)"/><circle cx="276.10" cy="718.98" r="2.5" fill="#fb8414"/><circle cx="276.10" cy="718.98" r="2.5" fill="url(#g2)"/><circle cx="276.00" cy="737.40" r="2.5" fill="#fb8414"/><circle cx="276.00" cy="737.40" r="2.5" fill="url(#g2)"/><circle cx="275.70" cy="755.82" r="2.5" fill="#fb8414"/><circle cx="275.70" cy="755.82" r="2.5" fill="url(#g2)"/><circle cx="268.50" cy="774.24" r="2.5" fill="#fb8414"/><circle cx="268.50" cy="774.24" r="2.5" fill="url(#g2)"/><circle cx="273.30" cy="792.66" r="2.5" fill="#fb8414"/><circle cx="273.30" cy="792.66" r="2.5" fill="url(#g2)"/><circle cx="277.60" cy="811.08" r="2.5" fill="#fb8414"/><circle cx="277.60" cy="811.08" r="2.5" fill="url(#g2)"/><circle cx="280.00" cy="829.50" r="2.5" fill="#fb8414"/><circle cx="280.00" cy="829.50" r="2.5" fill="url(#g2)"/><circle cx="282.30" cy="847.92" r="2.5" fill="#fb8414"/><circle cx="282.30" cy="847.92" r="2.5" fill="url(#g2)"/>
<polyline fill="none" stroke="#168a16" stroke-width="1.35" stroke-linejoin="round" points="217.30,663.72 217.30,682.14 217.30,700.56 217.30,718.98 217.30,737.40 217.30,755.82 205.90,774.24 210.20,792.66 212.40,811.08 213.60,829.50 215.50,847.92"/><circle cx="217.30" cy="663.72" r="2.5" fill="#168a16"/><circle cx="217.30" cy="663.72" r="2.5" fill="url(#g1)"/><circle cx="217.30" cy="682.14" r="2.5" fill="#168a16"/><circle cx="217.30" cy="682.14" r="2.5" fill="url(#g1)"/><circle cx="217.30" cy="700.56" r="2.5" fill="#168a16"/><circle cx="217.30" cy="700.56" r="2.5" fill="url(#g1)"/><circle cx="217.30" cy="718.98" r="2.5" fill="#168a16"/><circle cx="217.30" cy="718.98" r="2.5" fill="url(#g1)"/><circle cx="217.30" cy="737.40" r="2.5" fill="#168a16"/><circle cx="217.30" cy="737.40" r="2.5" fill="url(#g1)"/><circle cx="217.30" cy="755.82" r="2.5" fill="#168a16"/><circle cx="217.30" cy="755.82" r="2.5" fill="url(#g1)"/><circle cx="205.90" cy="774.24" r="2.5" fill="#168a16"/><circle cx="205.90" cy="774.24" r="2.5" fill="url(#g1)"/><circle cx="210.20" cy="792.66" r="2.5" fill="#168a16"/><circle cx="210.20" cy="792.66" r="2.5" fill="url(#g1)"/><circle cx="212.40" cy="811.08" r="2.5" fill="#168a16"/><circle cx="212.40" cy="811.08" r="2.5" fill="url(#g1)"/><circle cx="213.60" cy="829.50" r="2.5" fill="#168a16"/><circle cx="213.60" cy="829.50" r="2.5" fill="url(#g1)"/><circle cx="215.50" cy="847.92" r="2.5" fill="#168a16"/><circle cx="215.50" cy="847.92" r="2.5" fill="url(#g1)"/>
<polyline fill="none" stroke="#4f86c6" stroke-width="1.35" stroke-linejoin="round" points="59.50,663.72 59.50,682.14 59.50,700.56 59.30,718.98 59.00,737.40 58.50,755.82 30.90,774.24 32.40,792.66 32.90,811.08 33.20,829.50 33.70,847.92"/><circle cx="59.50" cy="663.72" r="2.5" fill="#4f86c6"/><circle cx="59.50" cy="663.72" r="2.5" fill="url(#g0)"/><circle cx="59.50" cy="682.14" r="2.5" fill="#4f86c6"/><circle cx="59.50" cy="682.14" r="2.5" fill="url(#g0)"/><circle cx="59.50" cy="700.56" r="2.5" fill="#4f86c6"/><circle cx="59.50" cy="700.56" r="2.5" fill="url(#g0)"/><circle cx="59.30" cy="718.98" r="2.5" fill="#4f86c6"/><circle cx="59.30" cy="718.98" r="2.5" fill="url(#g0)"/><circle cx="59.00" cy="737.40" r="2.5" fill="#4f86c6"/><circle cx="59.00" cy="737.40" r="2.5" fill="url(#g0)"/><circle cx="58.50" cy="755.82" r="2.5" fill="#4f86c6"/><circle cx="58.50" cy="755.82" r="2.5" fill="url(#g0)"/><circle cx="30.90" cy="774.24" r="2.5" fill="#4f86c6"/><circle cx="30.90" cy="774.24" r="2.5" fill="url(#g0)"/><circle cx="32.40" cy="792.66" r="2.5" fill="#4f86c6"/><circle cx="32.40" cy="792.66" r="2.5" fill="url(#g0)"/><circle cx="32.90" cy="811.08" r="2.5" fill="#4f86c6"/><circle cx="32.90" cy="811.08" r="2.5" fill="url(#g0)"/><circle cx="33.20" cy="829.50" r="2.5" fill="#4f86c6"/><circle cx="33.20" cy="829.50" r="2.5" fill="url(#g0)"/><circle cx="33.70" cy="847.92" r="2.5" fill="#4f86c6"/><circle cx="33.70" cy="847.92" r="2.5" fill="url(#g0)"/>
</g>
<text class="s" x="239.30" y="647.60" font-size="8.5" text-anchor="start">15.6</text>
<text class="s" x="239.30" y="684.44" font-size="8.5" text-anchor="start">15.4</text>
<text class="s" x="239.30" y="721.28" font-size="8.5" text-anchor="start">15.2</text>
<text class="s" x="239.30" y="758.12" font-size="8.5" text-anchor="start">15.0</text>
<text class="s" x="239.30" y="794.96" font-size="8.5" text-anchor="start">14.8</text>
<text class="s" x="239.30" y="831.80" font-size="8.5" text-anchor="start">14.6</text>
<text class="s" x="239.30" y="868.64" font-size="8.5" text-anchor="start">14.4</text>
<line x1="238.0" y1="645.2" x2="238.0" y2="865.9" stroke="#34363e" stroke-width="1.3"/>
<line x1="21.4" y1="644.7" x2="21.4" y2="866.4" stroke="#34363e" stroke-width="1.2"/>
<line x1="20.9" y1="865.9" x2="288.5" y2="865.9" stroke="#34363e" stroke-width="1.2"/>
<line x1="20.9" y1="645.2" x2="288.5" y2="645.2" stroke="#4a4f58" stroke-width="0.9"/>
<line x1="288.0" y1="644.7" x2="288.0" y2="866.4" stroke="#8fa0bb" stroke-width="0.7"/>
<text class="s" x="21.70" y="877.80" font-size="8.8" text-anchor="middle">-44.5</text>
<text class="s" x="83.75" y="877.80" font-size="8.8" text-anchor="middle">-39.5</text>
<text class="s" x="145.80" y="877.80" font-size="8.8" text-anchor="middle">-34.5</text>
<text class="s" x="207.85" y="877.80" font-size="8.8" text-anchor="middle">-29.5</text>
<text class="s" x="269.90" y="877.80" font-size="8.8" text-anchor="middle">-24.5</text>
<line x1="25.9" y1="655.6" x2="47.2" y2="655.6" stroke="#fb8414" stroke-width="1.15"/>
<circle cx="36.55" cy="655.60" r="2.3" fill="#fb8414"/><circle cx="36.55" cy="655.60" r="2.3" fill="url(#g2)"/>
<text class="s" x="49.00" y="658.66" font-size="9.0" text-anchor="start">c</text>
<line x1="25.9" y1="667.4" x2="47.2" y2="667.4" stroke="#168a16" stroke-width="1.15"/>
<circle cx="36.55" cy="667.40" r="2.3" fill="#168a16"/><circle cx="36.55" cy="667.40" r="2.3" fill="url(#g1)"/>
<text class="s" x="49.00" y="670.46" font-size="9.0" text-anchor="start">f</text>
<line x1="25.9" y1="679.2" x2="47.2" y2="679.2" stroke="#4f86c6" stroke-width="1.15"/>
<circle cx="36.55" cy="679.20" r="2.3" fill="#4f86c6"/><circle cx="36.55" cy="679.20" r="2.3" fill="url(#g0)"/>
<text class="s" x="49.00" y="682.26" font-size="9.0" text-anchor="start">g</text>
<text x="160.70" y="898.30" font-size="14.15" text-anchor="middle">Displacement of inner wall of</text>
<text x="162.20" y="916.10" font-size="14.15" text-anchor="middle">cement sheath / m</text>
<text transform="translate(14.7,763.7) rotate(-90)" font-size="14.35" text-anchor="middle">Height / m</text>
<text x="311.60" y="747.10" font-size="14" text-anchor="middle">Casing</text>
<text x="313.30" y="764.00" font-size="14" text-anchor="middle">shoes</text></g>
<g><rect x="370.6" y="649.2" width="267.9" height="110.90" fill="#a7cbe9"/>
<rect x="370.6" y="760.1" width="267.9" height="109.90" fill="#cbcfe9"/>
<line x1="370.6" y1="760.1" x2="638.5" y2="760.1" stroke="#e24b52" stroke-width="1.1" stroke-dasharray="4.4 3.75" stroke-dashoffset="0"/>
<line x1="583.3" y1="667.68" x2="581.30" y2="667.68" stroke="#34363e" stroke-width="1"/>
<line x1="583.3" y1="686.16" x2="579.90" y2="686.16" stroke="#34363e" stroke-width="1"/>
<line x1="583.3" y1="704.64" x2="581.30" y2="704.64" stroke="#34363e" stroke-width="1"/>
<line x1="583.3" y1="723.12" x2="579.90" y2="723.12" stroke="#34363e" stroke-width="1"/>
<line x1="583.3" y1="741.60" x2="581.30" y2="741.60" stroke="#34363e" stroke-width="1"/>
<line x1="583.3" y1="760.08" x2="579.90" y2="760.08" stroke="#34363e" stroke-width="1"/>
<line x1="583.3" y1="778.56" x2="581.30" y2="778.56" stroke="#34363e" stroke-width="1"/>
<line x1="583.3" y1="797.04" x2="579.90" y2="797.04" stroke="#34363e" stroke-width="1"/>
<line x1="583.3" y1="815.52" x2="581.30" y2="815.52" stroke="#34363e" stroke-width="1"/>
<line x1="583.3" y1="834.00" x2="579.90" y2="834.00" stroke="#34363e" stroke-width="1"/>
<line x1="583.3" y1="852.48" x2="581.30" y2="852.48" stroke="#34363e" stroke-width="1"/>
<line x1="371.20" y1="870.0" x2="371.20" y2="866.5" stroke="#34363e" stroke-width="1"/>
<line x1="431.88" y1="870.0" x2="431.88" y2="866.5" stroke="#34363e" stroke-width="1"/>
<line x1="492.56" y1="870.0" x2="492.56" y2="866.5" stroke="#34363e" stroke-width="1"/>
<line x1="553.24" y1="870.0" x2="553.24" y2="866.5" stroke="#34363e" stroke-width="1"/>
<line x1="613.92" y1="870.0" x2="613.92" y2="866.5" stroke="#34363e" stroke-width="1"/>
<line x1="401.54" y1="870.0" x2="401.54" y2="868.2" stroke="#34363e" stroke-width="1"/>
<line x1="462.22" y1="870.0" x2="462.22" y2="868.2" stroke="#34363e" stroke-width="1"/>
<line x1="522.90" y1="870.0" x2="522.90" y2="868.2" stroke="#34363e" stroke-width="1"/>
<g clip-path="url(#c5)">
<polyline fill="none" stroke="#f58a2e" stroke-width="1.5" stroke-linejoin="round" points="605.70,667.68 605.70,686.16 606.00,704.64 606.00,723.12 605.50,741.60 604.10,760.08 610.60,778.56 616.60,797.04 621.40,815.52 624.00,834.00 626.70,852.48"/><circle cx="605.70" cy="667.68" r="2.7" fill="#f58a2e"/><circle cx="605.70" cy="667.68" r="2.7" fill="url(#g3)"/><circle cx="605.70" cy="686.16" r="2.7" fill="#f58a2e"/><circle cx="605.70" cy="686.16" r="2.7" fill="url(#g3)"/><circle cx="606.00" cy="704.64" r="2.7" fill="#f58a2e"/><circle cx="606.00" cy="704.64" r="2.7" fill="url(#g3)"/><circle cx="606.00" cy="723.12" r="2.7" fill="#f58a2e"/><circle cx="606.00" cy="723.12" r="2.7" fill="url(#g3)"/><circle cx="605.50" cy="741.60" r="2.7" fill="#f58a2e"/><circle cx="605.50" cy="741.60" r="2.7" fill="url(#g3)"/><circle cx="604.10" cy="760.08" r="2.7" fill="#f58a2e"/><circle cx="604.10" cy="760.08" r="2.7" fill="url(#g3)"/><circle cx="610.60" cy="778.56" r="2.7" fill="#f58a2e"/><circle cx="610.60" cy="778.56" r="2.7" fill="url(#g3)"/><circle cx="616.60" cy="797.04" r="2.7" fill="#f58a2e"/><circle cx="616.60" cy="797.04" r="2.7" fill="url(#g3)"/><circle cx="621.40" cy="815.52" r="2.7" fill="#f58a2e"/><circle cx="621.40" cy="815.52" r="2.7" fill="url(#g3)"/><circle cx="624.00" cy="834.00" r="2.7" fill="#f58a2e"/><circle cx="624.00" cy="834.00" r="2.7" fill="url(#g3)"/><circle cx="626.70" cy="852.48" r="2.7" fill="#f58a2e"/><circle cx="626.70" cy="852.48" r="2.7" fill="url(#g3)"/>
<polyline fill="none" stroke="#1d70b7" stroke-width="1.5" stroke-linejoin="round" points="546.70,667.68 546.70,686.16 546.50,704.64 546.00,723.12 544.30,741.60 542.90,760.08 549.90,778.56 555.40,797.04 557.30,815.52 559.30,834.00 561.20,852.48"/><circle cx="546.70" cy="667.68" r="2.7" fill="#1d70b7"/><circle cx="546.70" cy="667.68" r="2.7" fill="url(#g4)"/><circle cx="546.70" cy="686.16" r="2.7" fill="#1d70b7"/><circle cx="546.70" cy="686.16" r="2.7" fill="url(#g4)"/><circle cx="546.50" cy="704.64" r="2.7" fill="#1d70b7"/><circle cx="546.50" cy="704.64" r="2.7" fill="url(#g4)"/><circle cx="546.00" cy="723.12" r="2.7" fill="#1d70b7"/><circle cx="546.00" cy="723.12" r="2.7" fill="url(#g4)"/><circle cx="544.30" cy="741.60" r="2.7" fill="#1d70b7"/><circle cx="544.30" cy="741.60" r="2.7" fill="url(#g4)"/><circle cx="542.90" cy="760.08" r="2.7" fill="#1d70b7"/><circle cx="542.90" cy="760.08" r="2.7" fill="url(#g4)"/><circle cx="549.90" cy="778.56" r="2.7" fill="#1d70b7"/><circle cx="549.90" cy="778.56" r="2.7" fill="url(#g4)"/><circle cx="555.40" cy="797.04" r="2.7" fill="#1d70b7"/><circle cx="555.40" cy="797.04" r="2.7" fill="url(#g4)"/><circle cx="557.30" cy="815.52" r="2.7" fill="#1d70b7"/><circle cx="557.30" cy="815.52" r="2.7" fill="url(#g4)"/><circle cx="559.30" cy="834.00" r="2.7" fill="#1d70b7"/><circle cx="559.30" cy="834.00" r="2.7" fill="url(#g4)"/><circle cx="561.20" cy="852.48" r="2.7" fill="#1d70b7"/><circle cx="561.20" cy="852.48" r="2.7" fill="url(#g4)"/>
<polyline fill="none" stroke="#1d9358" stroke-width="1.5" stroke-linejoin="round" points="379.70,667.68 378.70,686.16 377.40,704.64 375.70,723.12 374.90,741.60 372.40,760.08 376.90,778.56 380.40,797.04 381.40,815.52 381.90,834.00 382.40,852.48"/><circle cx="379.70" cy="667.68" r="2.7" fill="#1d9358"/><circle cx="379.70" cy="667.68" r="2.7" fill="url(#g5)"/><circle cx="378.70" cy="686.16" r="2.7" fill="#1d9358"/><circle cx="378.70" cy="686.16" r="2.7" fill="url(#g5)"/><circle cx="377.40" cy="704.64" r="2.7" fill="#1d9358"/><circle cx="377.40" cy="704.64" r="2.7" fill="url(#g5)"/><circle cx="375.70" cy="723.12" r="2.7" fill="#1d9358"/><circle cx="375.70" cy="723.12" r="2.7" fill="url(#g5)"/><circle cx="374.90" cy="741.60" r="2.7" fill="#1d9358"/><circle cx="374.90" cy="741.60" r="2.7" fill="url(#g5)"/><circle cx="372.40" cy="760.08" r="2.7" fill="#1d9358"/><circle cx="372.40" cy="760.08" r="2.7" fill="url(#g5)"/><circle cx="376.90" cy="778.56" r="2.7" fill="#1d9358"/><circle cx="376.90" cy="778.56" r="2.7" fill="url(#g5)"/><circle cx="380.40" cy="797.04" r="2.7" fill="#1d9358"/><circle cx="380.40" cy="797.04" r="2.7" fill="url(#g5)"/><circle cx="381.40" cy="815.52" r="2.7" fill="#1d9358"/><circle cx="381.40" cy="815.52" r="2.7" fill="url(#g5)"/><circle cx="381.90" cy="834.00" r="2.7" fill="#1d9358"/><circle cx="381.90" cy="834.00" r="2.7" fill="url(#g5)"/><circle cx="382.40" cy="852.48" r="2.7" fill="#1d9358"/><circle cx="382.40" cy="852.48" r="2.7" fill="url(#g5)"/>
</g>
<text class="s" x="576.60" y="651.54" font-size="8.6" text-anchor="end">15.6</text>
<text class="s" x="576.60" y="688.50" font-size="8.6" text-anchor="end">15.4</text>
<text class="s" x="576.60" y="725.46" font-size="8.6" text-anchor="end">15.2</text>
<text class="s" x="576.60" y="762.42" font-size="8.6" text-anchor="end">15.0</text>
<text class="s" x="576.60" y="799.38" font-size="8.6" text-anchor="end">14.8</text>
<text class="s" x="576.60" y="836.34" font-size="8.6" text-anchor="end">14.6</text>
<text class="s" x="576.60" y="873.30" font-size="8.6" text-anchor="end">14.4</text>
<line x1="583.3" y1="649.2" x2="583.3" y2="870.0" stroke="#34363e" stroke-width="1.1"/>
<line x1="370.6" y1="648.7" x2="370.6" y2="870.5" stroke="#34363e" stroke-width="1.2"/>
<line x1="370.1" y1="870.0" x2="639.0" y2="870.0" stroke="#34363e" stroke-width="1.2"/>
<line x1="370.1" y1="649.2" x2="639.0" y2="649.2" stroke="#4a4f58" stroke-width="0.9"/>
<line x1="638.5" y1="648.7" x2="638.5" y2="870.5" stroke="#7c8aa0" stroke-width="0.8"/>
<text class="s" x="371.50" y="882.30" font-size="8.8" text-anchor="middle">-44.5</text>
<text class="s" x="432.18" y="882.30" font-size="8.8" text-anchor="middle">-39.5</text>
<text class="s" x="492.86" y="882.30" font-size="8.8" text-anchor="middle">-34.5</text>
<text class="s" x="553.54" y="882.30" font-size="8.8" text-anchor="middle">-29.5</text>
<text class="s" x="614.22" y="882.30" font-size="8.8" text-anchor="middle">-24.5</text>
<line x1="410.1" y1="658.6" x2="430.9" y2="658.6" stroke="#f58a2e" stroke-width="1.15"/>
<circle cx="420.50" cy="658.60" r="2.7" fill="#f58a2e"/><circle cx="420.50" cy="658.60" r="2.7" fill="url(#g3)"/>
<text class="s" x="433.00" y="661.86" font-size="9.6" text-anchor="start">c</text>
<line x1="410.1" y1="670.4" x2="430.9" y2="670.4" stroke="#1d70b7" stroke-width="1.15"/>
<circle cx="420.50" cy="670.40" r="2.7" fill="#1d70b7"/><circle cx="420.50" cy="670.40" r="2.7" fill="url(#g4)"/>
<text class="s" x="433.00" y="673.66" font-size="9.6" text-anchor="start">f</text>
<line x1="410.1" y1="682.0" x2="430.9" y2="682.0" stroke="#1d9358" stroke-width="1.15"/>
<circle cx="420.50" cy="682.00" r="2.7" fill="#1d9358"/><circle cx="420.50" cy="682.00" r="2.7" fill="url(#g5)"/>
<text class="s" x="433.00" y="685.26" font-size="9.6" text-anchor="start">g</text>
<text x="507.60" y="901.20" font-size="14.1" text-anchor="middle">Displacement of inner wall of</text>
<text x="508.90" y="918.10" font-size="14.1" text-anchor="middle">surrounding rock / m</text>
<text transform="translate(359.9,763.7) rotate(-90)" font-size="14.35" text-anchor="middle">Height / m</text>
<text x="666.00" y="747.60" font-size="14" text-anchor="middle">Casing</text>
<text x="666.90" y="764.20" font-size="14" text-anchor="middle">shoes</text></g>
<text x="161.20" y="309.00" font-size="19.95" text-anchor="start">(a) Scheme a, b, and c vertical displacement curve</text>
<text x="160.70" y="632.70" font-size="19.95" text-anchor="start">(b) Scheme c, d, and e vertical displacement curve</text>
<text x="162.30" y="942.20" font-size="19.95" text-anchor="start">(c) Scheme c, f, and g vertical displacement curve</text>
</svg>
</body></html>
